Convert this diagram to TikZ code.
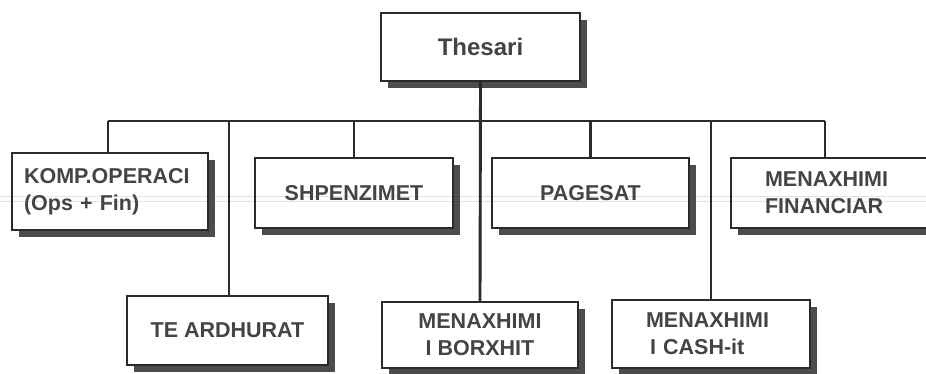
\documentclass[tikz,border=0pt]{standalone}
\usepackage{fontspec}
\setmainfont{Liberation Sans}
\usetikzlibrary{shadows}
\definecolor{ink}{HTML}{2A2A2A}
\definecolor{txt}{HTML}{444444}
\definecolor{shade}{HTML}{4C4C4C}
\begin{document}
\begin{tikzpicture}[x=1pt,y=-1pt,
  unit/.style={draw=ink, line width=1.3pt, fill=white, inner sep=0pt,
    minimum width=198pt, minimum height=70pt,
    font=\fontsize{21.5}{27}\selectfont\bfseries, text=txt, align=center,
    drop shadow={shadow xshift=7pt, shadow yshift=-7pt, fill=shade, opacity=1}},
  link/.style={draw=ink, line width=2.9pt},
  scanline/.style={draw=gray!22, line width=0.8pt}]
\useasboundingbox (0,0) rectangle (926,373);

% org units
\node[unit, minimum width=199pt, minimum height=68pt,
      font=\fontsize{24}{28}\selectfont\bfseries] (thesari) at (480.5,47) {Thesari};
\node[unit, minimum width=196pt, minimum height=77pt, align=left,
      text width=172pt] (komp) at (110,191.5) {KOMP.OPERACI\\(Ops + Fin)};
\node[unit] (shpen) at (354,193) {SHPENZIMET};
\node[unit, minimum width=197pt] (pages) at (590.5,193) {PAGESAT};
\node[unit, minimum width=210pt, align=left, text width=142pt] (finan) at (836,193)
      {MENAXHIMI\\FINANCIAR};
\node[unit, minimum width=201pt, minimum height=69pt] (ardh) at (227.5,330.5) {TE ARDHURAT};
\node[unit, minimum width=196pt, minimum height=66pt] (borx) at (480,335)
      {MENAXHIMI\\I BORXHIT};
\node[unit, minimum height=68pt, align=left, text width=130pt] (cash) at (711,334)
      {MENAXHIMI\\\hspace*{4pt}I CASH-it};

% bus ends
\coordinate (busL) at (108,121);
\coordinate (busR) at (825,121);
\coordinate (dropA) at (229,121);
\coordinate (dropC) at (711,121);

% connectors
\draw[link] (busL) -- (busR);
\draw[link] (thesari.south) -- (borx.north);
\draw[link] (busL) -- (busL |- komp.north);
\draw[link] (busR) -- (busR |- finan.north);
\draw[link] (shpen.north |- busL) -- (shpen.north);
\draw[link] (pages.north |- busL) -- (pages.north);
\draw[link] (dropA) -- (dropA |- ardh.north);
\draw[link] (dropC) -- (dropC |- cash.north);

% faint scan lines across the sheet, darkening only the light areas
\begin{scope}[blend mode=darken]
\draw[scanline] (0,196) -- (926,196);
\draw[scanline] (0,201) -- (926,201);
\end{scope}
\end{tikzpicture}
\end{document}
